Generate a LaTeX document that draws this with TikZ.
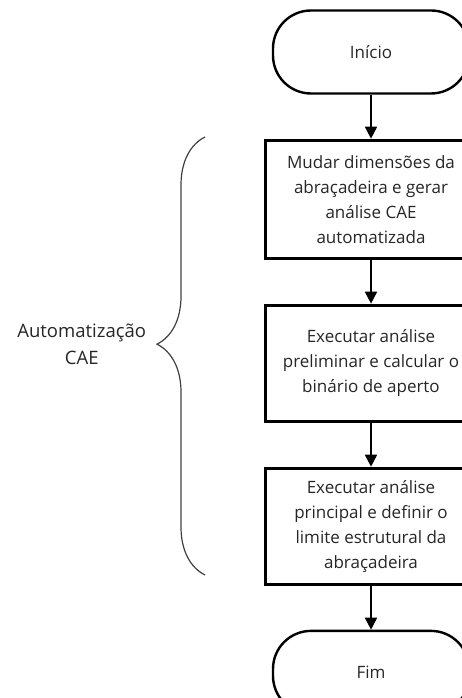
\documentclass[tikz,border=0pt]{standalone}
\usepackage{fontspec}
\setmainfont{Open Sans}
\usetikzlibrary{arrows.meta,positioning,decorations.pathreplacing}

\begin{document}
\begin{tikzpicture}[x=1pt,y=1pt,node distance=44pt,>={Triangle[length=12pt,width=12pt]},every node/.style={font=\fontsize{17}{25}\selectfont,text=black!85}]
\useasboundingbox (0,0) rectangle (462,698);
\clip (0,0) rectangle (462,698);
\node[draw,line width=2.4pt,rounded corners=38pt,minimum width=196pt,minimum height=83pt] (start) at (371,646) {Início};
\node[draw,line width=3pt,align=center,minimum width=212pt,minimum height=118pt,below=of start] (mudar) {Mudar dimensões da\\abraçadeira e gerar\\análise CAE\\automatizada};
\node[draw,line width=3pt,align=center,minimum width=212pt,minimum height=116pt,below=of mudar] (prelim) {Executar análise\\preliminar e calcular o\\binário de aperto};
\node[draw,line width=3pt,align=center,minimum width=212pt,minimum height=116pt,below=of prelim] (princ) {Executar análise\\principal e definir o\\limite estrutural da\\abraçadeira};
\node[draw,line width=2.4pt,rounded corners=38pt,minimum width=196pt,minimum height=83pt,below=of princ] (fim) {Fim};
\draw[->,line width=1.6pt] (start) -- (mudar);
\draw[->,line width=1.6pt] (mudar) -- (prelim);
\draw[->,line width=1.6pt] (prelim) -- (princ);
\draw[->,line width=1.6pt] (princ) -- (fim);
\coordinate (bbot) at (205,123);
\coordinate (btop) at (205,561);
\draw[decorate,decoration={brace,amplitude=48pt,aspect=0.527},line width=1.2pt,black!75] (bbot) -- (btop) node[pos=0.527,left=55pt,align=center,font=\fontsize{18.5}{27}\selectfont] (auto) {Automatização\\CAE};
\end{tikzpicture}
\end{document}
